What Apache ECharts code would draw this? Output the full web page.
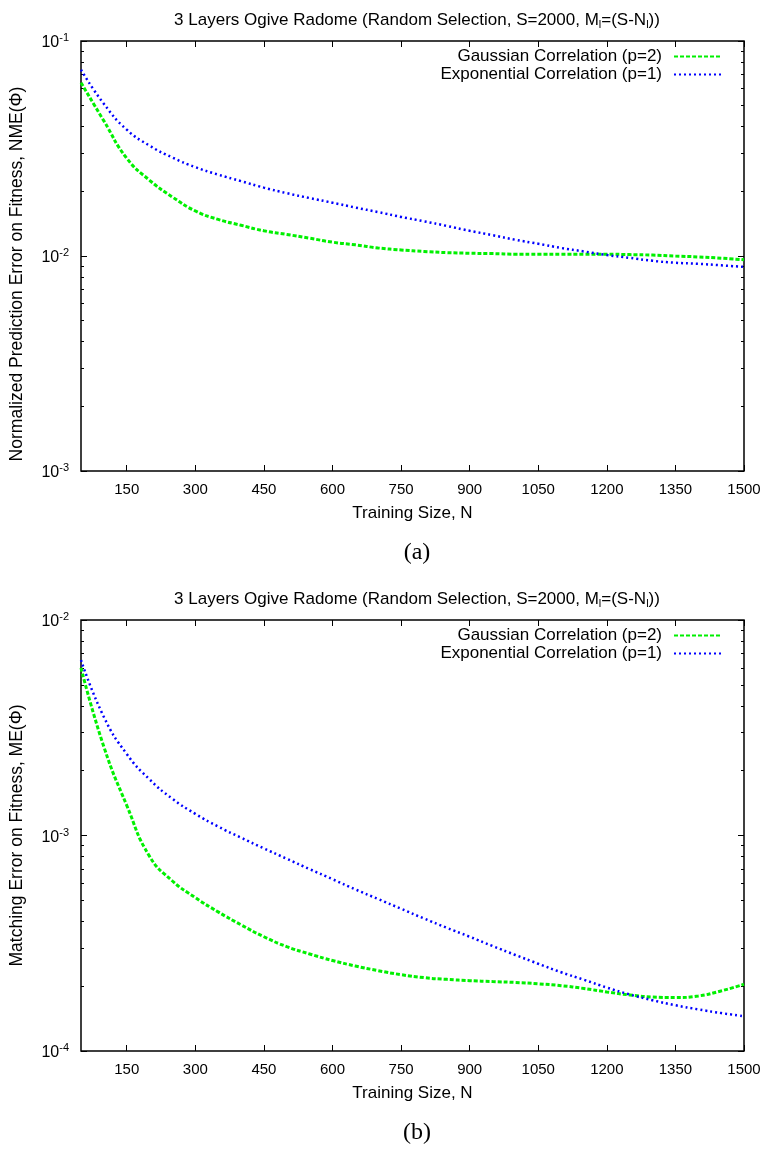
<!DOCTYPE html>
<html><head><meta charset="utf-8">
<script src="https://cdn.jsdelivr.net/npm/echarts@6/dist/echarts.min.js"></script>
<style>html,body{margin:0;padding:0;background:#fff}#c{width:767px;height:1149px}</style>
</head><body><div id="c"></div>
<script>
const sizes = [50,100,150,200,250,300,350,400,450,500,550,600,650,700,750,800,850,900,950,1000,1050,1100,1150,1200,1250,1300,1350,1400,1450,1500];
const nmeGauss = [0.064,0.0425,0.0285,0.0225,0.0188,0.0162,0.0148,0.0139,0.0131,0.0126,0.0121,0.0116,0.01127,0.0109,0.01067,0.0105,0.01037,0.0103,0.01026,0.0102,0.0102,0.0102,0.0102,0.0102,0.01015,0.0101,0.0100,0.0099,0.00977,0.0096];
const nmeExp   = [0.0735,0.051,0.0387,0.0326,0.0287,0.0259,0.0239,0.0223,0.0208,0.0196,0.0186,0.0177,0.0168,0.016,0.0152,0.0145,0.0138,0.0131,0.0125,0.0119,0.0114,0.0109,0.0105,0.0101,0.0098,0.0095,0.0093,0.0092,0.00905,0.0089];
const meGauss  = [0.0060,0.00258,0.00138,0.0008,0.000615,0.000515,0.000442,0.000385,0.000339,0.000305,0.000282,0.000263,0.000248,0.000236,0.000226,0.000219,0.000215,0.000212,0.00021,0.000208,0.000205,0.000201,0.000195,0.000188,0.000182,0.000178,0.000177,0.00018,0.00019,0.000204];
const meExp    = [0.00652,0.00355,0.00239,0.00182,0.00148,0.00126,0.0011,0.000977,0.000871,0.00078,0.000698,0.000627,0.000562,0.000507,0.000457,0.000412,0.000373,0.000339,0.000307,0.000279,0.000254,0.000232,0.000214,0.000197,0.000183,0.000172,0.000163,0.000156,0.00015,0.000145];
const xTicks = [150,300,450,600,750,900,1050,1200,1350,1500];
const majA = [0.001,0.01,0.1], minA = [0.002,0.003,0.004,0.005,0.006,0.007,0.008,0.009,0.02,0.03,0.04,0.05,0.06,0.07,0.08,0.09];
const majB = [0.0001,0.001,0.01], minB = [0.0002,0.0003,0.0004,0.0005,0.0006,0.0007,0.0008,0.0009,0.002,0.003,0.004,0.005,0.006,0.007,0.008,0.009];
const nameG = 'Gaussian Correlation (p=2)', nameE = 'Exponential Correlation (p=1)';
const titleText = '3 Layers Ogive Radome (Random Selection, S=2000, M{sub|l}=(S-N{sub|l}))';
const FONT = "'Liberation Sans'";

const chart = echarts.init(document.getElementById('c'), null, {renderer:'canvas'});
const grids = [
  {left:81, right:23, top:41, height:430, show:true, borderColor:'#000', borderWidth:1.5, backgroundColor:'transparent'},
  {left:81, right:23, top:620, height:431, show:true, borderColor:'#000', borderWidth:1.5, backgroundColor:'transparent'}
];
function xAxes(g){
  return [
    {type:'value', gridIndex:g, min:50, max:1500, position:'bottom',
     name:'Training Size, N', nameLocation:'middle', nameGap:34,
     nameTextStyle:{fontFamily:FONT, fontSize:17, color:'#000'},
     axisLine:{show:false}, splitLine:{show:false},
     axisTick:{show:true, inside:true, length:6, customValues:xTicks, lineStyle:{color:'#000', width:1}},
     axisLabel:{show:true, customValues:xTicks, margin:11, fontFamily:FONT, fontSize:15, color:'#000',
       formatter:function(v){return String(v);}}},
    {type:'value', gridIndex:g, min:50, max:1500, position:'top',
     axisLine:{show:false}, splitLine:{show:false},
     axisTick:{show:true, inside:true, length:6, customValues:xTicks, lineStyle:{color:'#000', width:1}},
     axisLabel:{show:false}}
  ];
}
function yAxes(g, mn, mx, maj, mnr, name, shift){
  const base = {type:'log', gridIndex:g, min:mn, max:mx, logBase:10, axisLine:{show:false}, splitLine:{show:false}};
  return [
    Object.assign({}, base, {position:'left', name:name, nameLocation:'middle', nameGap:55,
      nameTextStyle:{fontFamily:FONT, fontSize:17.5, color:'#000', padding:[0, shift, 0, 0]},
      axisTick:{show:true, inside:true, length:6, customValues:maj, lineStyle:{color:'#000', width:1}},
      axisLabel:{show:true, customValues:maj, margin:12, color:'#000',
        formatter:function(v){return '{b|10}{s|' + Math.round(Math.log10(v)) + '}';},
        rich:{b:{fontFamily:FONT, fontSize:16, color:'#000', padding:[4,0,0,0]}, s:{fontFamily:FONT, fontSize:11, color:'#000', padding:[0,0,6,0]}}}}),
    Object.assign({}, base, {position:'left',
      axisTick:{show:true, inside:true, length:3, customValues:mnr, lineStyle:{color:'#000', width:1}},
      axisLabel:{show:false}}),
    Object.assign({}, base, {position:'right',
      axisTick:{show:true, inside:true, length:6, customValues:maj, lineStyle:{color:'#000', width:1}},
      axisLabel:{show:false}}),
    Object.assign({}, base, {position:'right',
      axisTick:{show:true, inside:true, length:3, customValues:mnr, lineStyle:{color:'#000', width:1}},
      axisLabel:{show:false}})
  ];
}
function pairs(xs, ys){ return xs.map((x,i)=>[x, ys[i]]); }
const gStyle = {color:'#00f000', width:3, type:[4,2]};
const eStyle = {color:'#0000ff', width:2.5, type:[2,3]};
function mkSeries(name, data, xi, yi, ls){
  return {type:'line', name:name, data:data, xAxisIndex:xi, yAxisIndex:yi, smooth:0.5, symbol:'none',
    lineStyle:ls, itemStyle:{color:ls.color}, animation:false, clip:true};
}
function mkLegend(name, top){
  return {data:[name], right:44, top:top, padding:0, orient:'vertical', align:'right', itemWidth:48, itemHeight:14,
    itemStyle:{opacity:0},
    textStyle:{fontFamily:FONT, fontSize:17, color:'#000', padding:[0,7,0,0]}, selectedMode:false};
}
const titleRich = {sub:{fontFamily:FONT, fontSize:11, color:'#000', padding:[9,0,0,0]}};
const option = {
  backgroundColor:'#fff',
  animation:false,
  title:[
    {text:titleText, left:412, top:5, textAlign:'center', textStyle:{fontFamily:FONT, fontSize:17, fontWeight:'normal', color:'#000', rich:titleRich}},
    {text:'(a)', left:412, top:536, textAlign:'center', textStyle:{fontFamily:'Liberation Serif', fontSize:24, fontWeight:'normal', color:'#000'}},
    {text:titleText, left:412, top:584, textAlign:'center', textStyle:{fontFamily:FONT, fontSize:17, fontWeight:'normal', color:'#000', rich:titleRich}},
    {text:'(b)', left:412, top:1116, textAlign:'center', textStyle:{fontFamily:'Liberation Serif', fontSize:24, fontWeight:'normal', color:'#000'}}
  ],
  legend:[mkLegend(nameG, 48), mkLegend(nameE, 66), mkLegend(nameG, 627), mkLegend(nameE, 645)],
  grid:grids,
  xAxis:[].concat(xAxes(0), xAxes(1)),
  yAxis:[].concat(yAxes(0, 0.001, 0.1, majA, minA, 'Normalized Prediction Error on Fitness, NME(\u03A6)', 36),
                  yAxes(1, 0.0001, 0.01, majB, minB, 'Matching Error on Fitness, ME(\u03A6)', 0)),
  series:[
    mkSeries(nameG, pairs(sizes, nmeGauss), 0, 0, gStyle),
    mkSeries(nameE, pairs(sizes, nmeExp), 0, 0, eStyle),
    mkSeries(nameG, pairs(sizes, meGauss), 2, 4, gStyle),
    mkSeries(nameE, pairs(sizes, meExp), 2, 4, eStyle)
  ]
};
chart.setOption(option);
</script></body></html>
